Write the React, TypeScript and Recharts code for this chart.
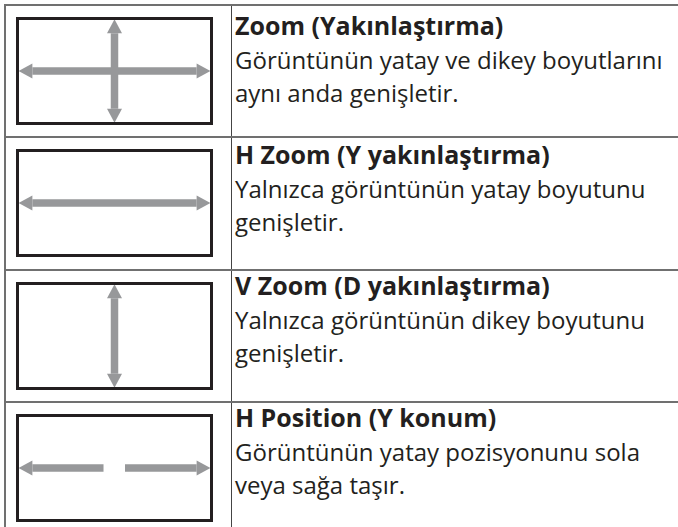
import React from 'react';
import { LineChart, Line, XAxis, YAxis } from 'recharts';

// table text
const titles = [
  'Zoom (Yakınlaştırma)',
  'H Zoom (Y yakınlaştırma)',
  'V Zoom (D yakınlaştırma)',
  'H Position (Y konum)',
];
const descriptions = [
  ['Görüntünün yatay ve dikey boyutlarını', 'aynı anda genişletir.'],
  ['Yalnızca görüntünün yatay boyutunu', 'genişletir.'],
  ['Yalnızca görüntünün dikey boyutunu', 'genişletir.'],
  ['Görüntünün yatay pozisyonunu sola', 'veya sağa taşır.'],
];

// arrow shafts per icon, in icon units (-1..1); head marks which end gets a tip
type Pt = { x: number; y: number; head?: 'left' | 'right' | 'up' | 'down' };
const horizontalArrow: Pt[] = [
  { x: -0.86, y: 0, head: 'left' },
  { x: 0.86, y: 0, head: 'right' },
];
const verticalArrow: Pt[] = [
  { x: 0, y: -0.74, head: 'down' },
  { x: 0, y: 0.74, head: 'up' },
];
const leftArrow: Pt[] = [
  { x: -0.86, y: 0, head: 'left' },
  { x: -0.115, y: 0 },
];
const rightArrow: Pt[] = [
  { x: 0.11, y: 0 },
  { x: 0.86, y: 0, head: 'right' },
];
const icons: Pt[][][] = [
  [horizontalArrow, verticalArrow],
  [horizontalArrow],
  [verticalArrow],
  [leftArrow, rightArrow],
];

const GRAY = '#97989a';
const INK = '#231f20';
const RULE = '#707070';
const ROW_TOPS = [4, 136, 269, 401];
const TEXT_TOPS = [7, 136, 267, 399];
const FONT = '"Open Sans", "Noto Sans", sans-serif';

const HEAD_LEN = 14;
const HEAD_HALF = 7.5;

const ArrowHead = (props: any) => {
  const { cx, cy, payload, index } = props;
  const dir = payload && payload.head;
  if (!dir || cx == null || cy == null) return <g key={`d${index}`} />;
  let pts = '';
  if (dir === 'left') pts = `${cx},${cy - HEAD_HALF} ${cx - HEAD_LEN},${cy} ${cx},${cy + HEAD_HALF}`;
  if (dir === 'right') pts = `${cx},${cy - HEAD_HALF} ${cx + HEAD_LEN},${cy} ${cx},${cy + HEAD_HALF}`;
  if (dir === 'up') pts = `${cx - HEAD_HALF},${cy} ${cx},${cy - HEAD_LEN} ${cx + HEAD_HALF},${cy}`;
  if (dir === 'down') pts = `${cx - HEAD_HALF},${cy} ${cx},${cy + HEAD_LEN} ${cx + HEAD_HALF},${cy}`;
  return <polygon key={`d${index}`} points={pts} fill={GRAY} />;
};

const Icon = ({ arrows }: { arrows: Pt[][] }) => (
  <div style={{ width: 191, height: 102, border: `3px solid ${INK}`, background: '#fff' }}>
    <LineChart width={191} height={102} margin={{ top: 0, right: 0, bottom: 0, left: 0 }}>
      <XAxis type="number" dataKey="x" domain={[-1, 1]} hide allowDataOverflow />
      <YAxis type="number" dataKey="y" domain={[-1, 1]} hide allowDataOverflow />
      {arrows.map((a, i) => (
        <Line
          key={i}
          data={a}
          dataKey="y"
          type="linear"
          stroke={GRAY}
          strokeWidth={7.5}
          strokeLinecap="butt"
          dot={ArrowHead}
          activeDot={false}
          isAnimationActive={false}
        />
      ))}
    </LineChart>
  </div>
);

export default function App() {
  return (
    <div
      style={{
        position: 'absolute',
        left: 0,
        top: 0,
        width: 678,
        height: 527,
        background: '#fff',
        overflow: 'hidden',
        fontFamily: FONT,
        color: INK,
      }}
    >
      {/* rules */}
      <div style={{ position: 'absolute', left: 4, top: 4, width: 2, height: 523, background: RULE }} />
      <div style={{ position: 'absolute', left: 231, top: 4, width: 1, height: 523, background: '#444' }} />
      {ROW_TOPS.map((t, i) => (
        <div key={i} style={{ position: 'absolute', left: 4, top: t, width: 674, height: 2, background: RULE }} />
      ))}
      {titles.map((title, i) => (
        <React.Fragment key={i}>
          <div style={{ position: 'absolute', left: 16, top: ROW_TOPS[i] + 13 }}>
            <Icon arrows={icons[i]} />
          </div>
          <div style={{ position: 'absolute', left: 235, top: TEXT_TOPS[i], whiteSpace: 'nowrap' }}>
            <div style={{ fontSize: 25, fontWeight: 700, lineHeight: '36px' }}>{title}</div>
            {descriptions[i].map((line, j) => (
              <div key={j} style={{ fontSize: 24, lineHeight: '33px' }}>{line}</div>
            ))}
          </div>
        </React.Fragment>
      ))}
    </div>
  );
}
